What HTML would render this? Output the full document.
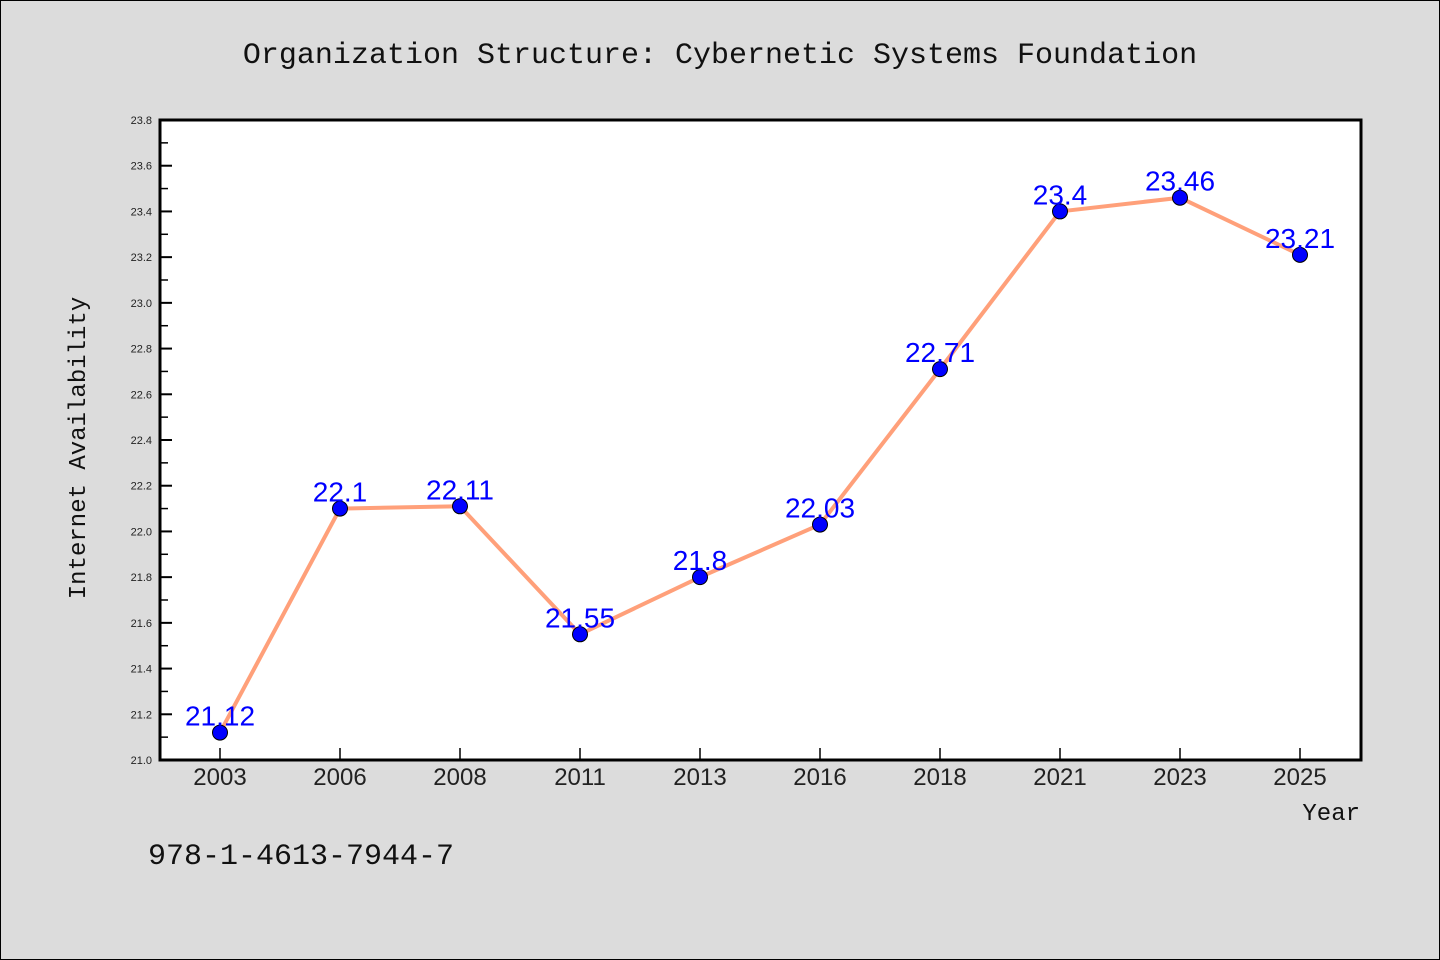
<!DOCTYPE html>
<html><head><meta charset="utf-8"><style>
html,body{margin:0;padding:0;background:#dcdcdc;}
svg{display:block;font-family:"WenQuanYi Zen Hei","Liberation Sans",sans-serif;}
</style></head><body>
<svg width="1440" height="960">
<rect x="0.5" y="0.5" width="1439" height="959" fill="#dcdcdc" stroke="#000" stroke-width="1"/>
<text x="720" y="63" text-anchor="middle" font-size="30" font-family="Liberation Mono, monospace" fill="#111">Organization Structure: Cybernetic Systems Foundation</text>
<rect x="160" y="120" width="1201" height="640" fill="#fff"/>
<g id="axes"></g>
<g id="series"></g>
<rect x="160" y="120" width="1201" height="640" fill="none" stroke="#000" stroke-width="3"/>
<text x="85" y="448" transform="rotate(-90 85 448)" text-anchor="middle" font-size="24" font-family="Liberation Mono, monospace" fill="#111">Internet Availability</text>
<text x="1360" y="820" text-anchor="end" font-size="24" font-family="Liberation Mono, monospace" fill="#111">Year</text>
<text x="148" y="864" font-size="30" font-family="Liberation Mono, monospace" fill="#111">978-1-4613-7944-7</text>
</svg>
<script>
const categories=["2003","2006","2008","2011","2013","2016","2018","2021","2023","2025"];
const values=[21.12,22.1,22.11,21.55,21.8,22.03,22.71,23.4,23.46,23.21];
const valueLabels=["21.12","22.1","22.11","21.55","21.8","22.03","22.71","23.4","23.46","23.21"];
const yTicks=[21.0,21.2,21.4,21.6,21.8,22.0,22.2,22.4,22.6,22.8,23.0,23.2,23.4,23.6,23.8];
const NS="http://www.w3.org/2000/svg";
const yMin=21.0,yMax=23.8,plotTop=120,plotBot=760,plotLeft=160;
function yS(v){return plotBot-(v-yMin)/(yMax-yMin)*(plotBot-plotTop);}
function xS(i){return 220+i*120;}
function mk(t,a,p){const e=document.createElementNS(NS,t);for(const k in a)e.setAttribute(k,a[k]);p.appendChild(e);return e;}
const ax=document.getElementById('axes'),se=document.getElementById('series');
yTicks.forEach((v,i)=>{
  const y=yS(v);
  const l=mk('line',{x1:plotLeft,x2:plotLeft+12,y1:y,y2:y,stroke:'#000','stroke-width':2},ax);
  
  
  const t=mk('text',{x:152,y:y+4,'text-anchor':'end','font-size':11,fill:'#222'},ax);
  t.textContent=v.toFixed(1);
  
  
  if(i<yTicks.length-1){
    const ym=yS(v+0.1);
    const m=mk('line',{x1:plotLeft,x2:plotLeft+8,y1:ym,y2:ym,stroke:'#000','stroke-width':1.5},ax);
    
    
  }
});
categories.forEach((c,i)=>{
  const x=xS(i);
  const l=mk('line',{x1:x,x2:x,y1:plotBot,y2:plotBot-12,stroke:'#000','stroke-width':1.5},ax);
  
  
  const t=mk('text',{x:x,y:785,'text-anchor':'middle','font-size':24,fill:'#222'},ax);
  t.textContent=c;
  
  
});
const pts=values.map((v,i)=>xS(i)+','+yS(v)).join(' ');
const pl=mk('polyline',{points:pts,fill:'none',stroke:'#ffa07a','stroke-width':4,'stroke-linejoin':'round'},se);


values.forEach((v,i)=>{
  const c=mk('circle',{cx:xS(i),cy:yS(v),r:7.5,fill:'#0000ff',stroke:'#000','stroke-width':1},se);
  
  
});
values.forEach((v,i)=>{
  const t=mk('text',{x:xS(i),y:yS(v)-7,'text-anchor':'middle','font-size':28,fill:'#0000ff'},se);
  t.textContent=valueLabels[i];
  
  
});
</script>
</body></html>
